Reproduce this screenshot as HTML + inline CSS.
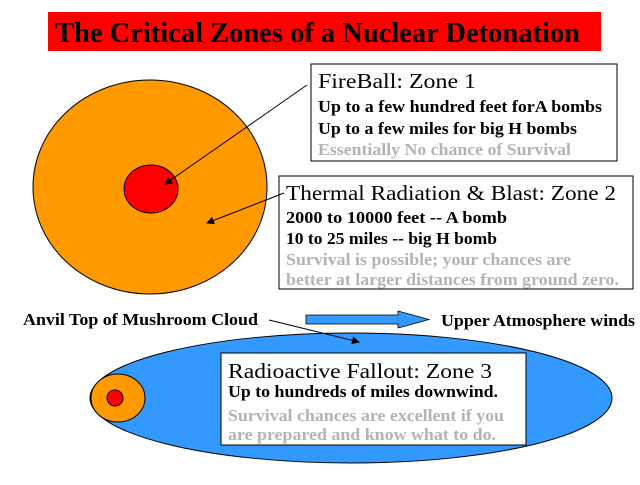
<!DOCTYPE html>
<html><head><meta charset="utf-8"><style>
body{margin:0;background:#fff;width:640px;height:480px;overflow:hidden}
svg text{font-family:"Liberation Serif",serif;font-weight:bold}
</style></head><body>
<svg width="640" height="480" viewBox="0 0 640 480" xmlns="http://www.w3.org/2000/svg">
<defs><marker id="a" markerWidth="8" markerHeight="8" refX="7" refY="4" orient="auto" markerUnits="userSpaceOnUse"><path d="M0,0 L8,4 L0,8z" fill="#000"/></marker></defs>
<g lengthAdjust="spacingAndGlyphs">
<rect x="48" y="12" width="553" height="39" fill="#ff0000"/>
<text x="55" y="42" font-size="29" textLength="525" lengthAdjust="spacingAndGlyphs">The Critical Zones of a Nuclear Detonation</text>
<ellipse cx="150" cy="187" rx="117" ry="107" fill="#ff9900" stroke="#000" stroke-width="1"/>
<ellipse cx="151" cy="189" rx="27" ry="24" fill="#ff0000" stroke="#000" stroke-width="1"/>
<rect x="311" y="64" width="306" height="97" fill="#fff" stroke="#000"/>
<text x="318" y="88" font-size="21" style="font-weight:normal" textLength="158" lengthAdjust="spacingAndGlyphs">FireBall:   Zone 1</text>
<text x="318" y="112" font-size="17" textLength="284" lengthAdjust="spacingAndGlyphs">Up to a few hundred feet forA bombs</text>
<text x="318" y="134" font-size="17" textLength="259" lengthAdjust="spacingAndGlyphs">Up to a few miles for big H bombs</text>
<text x="318" y="155" font-size="17" fill="#b3b3b3" textLength="253" lengthAdjust="spacingAndGlyphs">Essentially No chance of Survival</text>
<line x1="307" y1="85" x2="165" y2="184" stroke="#000" marker-end="url(#a)"/>
<rect x="279" y="176" width="354" height="113" fill="#fff" stroke="#000"/>
<text x="286" y="200" font-size="21" style="font-weight:normal" textLength="330" lengthAdjust="spacingAndGlyphs">Thermal Radiation &amp; Blast:  Zone 2</text>
<text x="286" y="223" font-size="17" textLength="221" lengthAdjust="spacingAndGlyphs">2000 to 10000 feet  -- A bomb</text>
<text x="286" y="244" font-size="17" textLength="211" lengthAdjust="spacingAndGlyphs">10 to 25 miles -- big H bomb</text>
<text x="286" y="265" font-size="17" fill="#b3b3b3" textLength="285" lengthAdjust="spacingAndGlyphs">Survival is possible; your chances are</text>
<text x="286" y="285" font-size="17" fill="#b3b3b3" textLength="333" lengthAdjust="spacingAndGlyphs">better at larger distances from ground zero.</text>
<line x1="284" y1="193" x2="207" y2="223" stroke="#000" marker-end="url(#a)"/>
<ellipse cx="351" cy="398" rx="261" ry="65" fill="#3399ff" stroke="#000"/>
<ellipse cx="118" cy="398" rx="27" ry="24" fill="#ff9900" stroke="#000"/>
<ellipse cx="115" cy="398" rx="8" ry="8" fill="#ff0000" stroke="#000"/>
<rect x="221" y="353" width="305" height="92" fill="#fff" stroke="#000"/>
<text x="228" y="378" font-size="21" style="font-weight:normal" textLength="264" lengthAdjust="spacingAndGlyphs">Radioactive Fallout:   Zone 3</text>
<text x="228" y="397" font-size="17" textLength="270" lengthAdjust="spacingAndGlyphs">Up to hundreds of miles downwind.</text>
<text x="228" y="421" font-size="17" fill="#b3b3b3" textLength="276" lengthAdjust="spacingAndGlyphs">Survival chances are excellent if you</text>
<text x="228" y="440" font-size="17" fill="#b3b3b3" textLength="268" lengthAdjust="spacingAndGlyphs">are prepared and know what to do.</text>
<text x="23" y="325" font-size="17" textLength="235" lengthAdjust="spacingAndGlyphs">Anvil Top of Mushroom Cloud</text>
<line x1="269" y1="320" x2="359" y2="342" stroke="#000" marker-end="url(#a)"/>
<path d="M306,315 L398,315 L398,311 L429,319.5 L398,328 L398,324 L306,324z" fill="#3399ff" stroke="#000" stroke-width="0.8"/>
<text x="441" y="326" font-size="17" textLength="194" lengthAdjust="spacingAndGlyphs">Upper Atmosphere winds</text>
</g>
</svg>
</body></html>
